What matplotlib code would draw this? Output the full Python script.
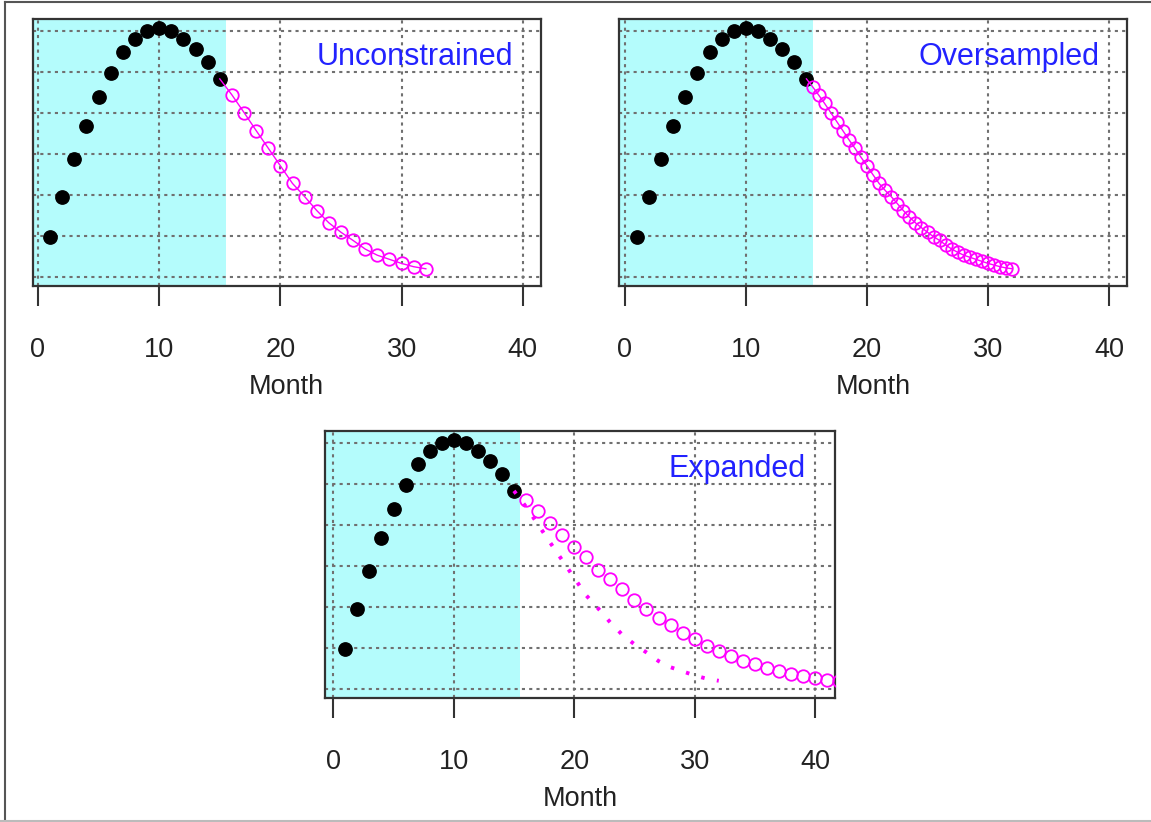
import numpy as np
import matplotlib
matplotlib.use('Agg')
import matplotlib.pyplot as plt
from matplotlib.lines import Line2D

plt.rcParams['font.family'] = ['Liberation Sans', 'DejaVu Sans']

mesi_oss = np.arange(1, 16)
valori_oss = [0.98, 1.96, 2.88, 3.67, 4.39, 4.98, 5.48, 5.80, 6.00, 6.07,
              6.00, 5.80, 5.55, 5.24, 4.83]

# Previsione "Unconstrained" (mesi 16-32)
mesi_unc = np.arange(16, 33)
valori_unc = [4.44, 4.01, 3.57, 3.14, 2.71, 2.28, 1.96, 1.62, 1.32, 1.09,
              0.89, 0.68, 0.53, 0.43, 0.33, 0.25, 0.20]

# Previsione "Oversampled" (ogni mezzo mese)
mesi_ovs = np.arange(15.5, 32.5, 0.5)
valori_ovs = [4.64, 4.44, 4.23, 4.01, 3.79, 3.57, 3.35, 3.14, 2.92, 2.71,
              2.49, 2.28, 2.11, 1.96, 1.79, 1.62, 1.46, 1.32, 1.20, 1.09,
              0.98, 0.89, 0.78, 0.68, 0.60, 0.53, 0.48, 0.43, 0.38, 0.33,
              0.29, 0.25, 0.22, 0.20]

# Previsione "Expanded" (mesi 16-42)
mesi_exp = np.arange(16, 43)
valori_exp = [4.60, 4.34, 4.05, 3.75, 3.46, 3.22, 2.91, 2.67, 2.43, 2.18,
              1.94, 1.73, 1.55, 1.37, 1.22, 1.06, 0.92, 0.81, 0.69, 0.60,
              0.52, 0.44, 0.37, 0.31, 0.26, 0.22, 0.19]

x_ticks = [0, 10, 20, 30, 40]
y_grid = [0, 1, 2, 3, 4, 5, 6]

W, H = 1151, 822
fig = plt.figure(figsize=(W / 100, H / 100), dpi=100)

ciano = '#b4fcfc'
magenta = '#ff00ff'
blu = '#2222ff'


def crea_pannello(l, r, t, b, xlim, titolo):
    ax = fig.add_axes([l / W, 1 - b / H, (r - l) / W, (b - t) / H])
    ax.set_xlim(*xlim)
    ax.set_ylim(-0.22, 6.29)
    ax.axvspan(xlim[0], 15.5, color=ciano, lw=0, zorder=0)
    for xv in x_ticks:
        ax.axvline(xv, color='#707070', lw=1.5, ls=(0, (1.5, 2.0)), zorder=1)
    for yv in y_grid:
        ax.axhline(yv, color='#707070', lw=1.5, ls=(0, (1.5, 2.0)), zorder=1)
    ax.plot(mesi_oss, valori_oss, 'o', color='black', ms=9.6, zorder=3)
    ax.set_xticks(x_ticks)
    ax.set_yticks([])
    ax.tick_params(axis='x', direction='out', length=14.5, width=1.5,
                   color='#333333', pad=22, labelsize=19.5, labelcolor='#222222')
    for s in ax.spines.values():
        s.set_linewidth(1.6)
        s.set_color('#333333')
    ax.set_xlabel('Month', fontsize=19.5, labelpad=8, color='#222222')
    ax.text(39.2, 5.17, titolo, ha='right', va='baseline', fontsize=22,
            color=blu, zorder=4)
    return ax


# Pannello 1: Unconstrained
ax1 = crea_pannello(32.5, 541, 19, 286, (-0.45, 41.5), 'Unconstrained')
ax1.plot([15] + list(mesi_unc), [valori_oss[-1]] + valori_unc, '-o',
         color=magenta, lw=1.0, ms=9, mfc='none', mew=1.3,
         markevery=list(range(1, len(mesi_unc) + 1)), zorder=4)

# Pannello 2: Oversampled
ax2 = crea_pannello(619, 1127, 19, 286, (-0.48, 41.47), 'Oversampled')
ax2.plot([15] + list(mesi_ovs), [valori_oss[-1]] + valori_ovs, '-o',
         color=magenta, lw=1.0, ms=9, mfc='none', mew=1.3,
         markevery=list(range(1, len(mesi_ovs) + 1)), zorder=4)

# Pannello 3: Expanded
ax3 = crea_pannello(325, 835, 431, 698, (-0.69, 41.65), 'Expanded')
ax3.plot([15] + list(mesi_unc), [valori_oss[-1]] + valori_unc,
         color=magenta, lw=2.8, ls=(0, (0.9, 3.2)), dash_capstyle='butt',
         zorder=3.5)
ax3.plot(mesi_exp, valori_exp, 'o', color=magenta, ms=9, mfc='none',
         mew=1.3, zorder=4)

# Cornice dello screenshot
fig.add_artist(Line2D([5 / W, 5 / W], [0, 1 - 2 / H], color='#555555', lw=1.5))
fig.add_artist(Line2D([5 / W, 1], [1 - 2 / H, 1 - 2 / H], color='#555555', lw=1.5))
fig.add_artist(Line2D([0, 1], [0.6 / H, 0.6 / H], color='#bbbbbb', lw=1.5))

plt.savefig('out.png', dpi=100)
plt.close()
